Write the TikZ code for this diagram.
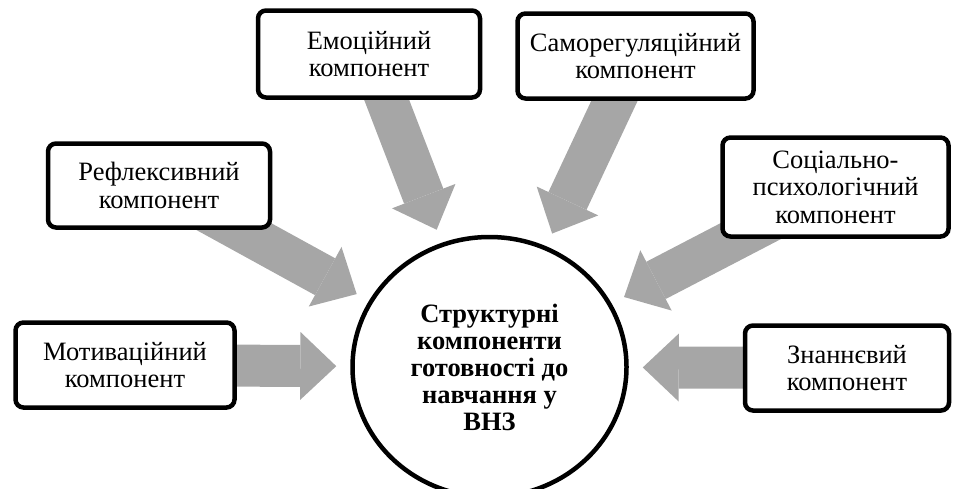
\documentclass[tikz,border=0pt]{standalone}
\usepackage{fontspec}
\setmainfont{Liberation Serif}
\usetikzlibrary{arrows.meta,shapes.geometric,backgrounds}
\definecolor{arrowGray}{RGB}{166,166,166}

\begin{document}
\begin{tikzpicture}[x=1pt, y=-1pt,
	component/.style={draw, line width=4.5pt, rounded corners=8pt, fill=white, align=center,
		inner sep=0pt, minimum width=222pt, minimum height=85pt, font=\fontsize{26.5}{27.5}\selectfont},
	hub/.style={ellipse, draw, line width=4.5pt, align=center, inner sep=0pt,
		minimum width=274pt, minimum height=260pt, font=\fontsize{26.5}{27}\selectfont\bfseries},
	bigArrow/.style={arrowGray, line width=42pt, shorten >=14pt,
		-{Triangle[length=36pt, width=68pt, line width=0pt]}}]

	\useasboundingbox (0,0) rectangle (960,488);

	%Centre
	\node[hub] (hub) at (489.5,367) {Структурні\\компоненти\\готовності до\\навчання у\\ВНЗ};

	%Left side
	\node[component, minimum width=219pt] (mot) at (125,365) {Мотиваційний\\компонент};
	\node[component, minimum height=84pt] (refl) at (159,185.5) {Рефлексивний\\компонент};

	%Top
	\node[component, minimum height=87pt] (emo) at (369,54) {Емоційний\\компонент};
	\node[component, minimum width=236pt] (samo) at (635.5,56) {Саморегуляційний\\компонент};

	%Right side
	\node[component, minimum width=226pt, minimum height=99pt] (soc) at (835.5,187) {Соціально-\\психологічний\\компонент};
	\node[component, minimum width=204pt] (zn) at (847,368) {Знаннєвий\\компонент};

	%Arrows into the centre
	\begin{scope}[on background layer]
		\foreach \part in {mot, refl, emo, samo, soc, zn}{
			\draw[bigArrow] (\part.center) -- (hub);
		}
	\end{scope}
\end{tikzpicture}
\end{document}
